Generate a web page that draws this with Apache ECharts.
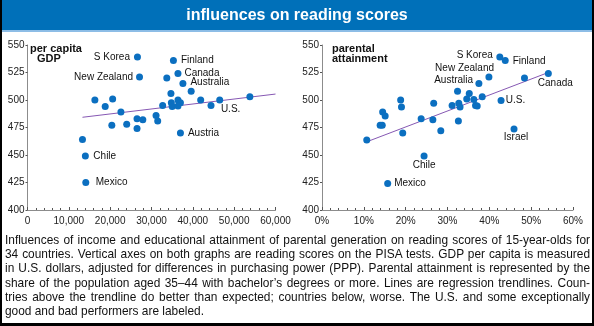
<!DOCTYPE html>
<html>
<head>
<meta charset="utf-8">
<script src="https://cdn.jsdelivr.net/npm/echarts@6/dist/echarts.min.js"></script>
<style>
  html, body { margin: 0; padding: 0; background: #fff; }
  #wrap { position: relative; width: 594px; height: 326px; overflow: hidden; }
  #chart { position: absolute; left: 0; top: 0; width: 594px; height: 326px; }
  #caption {
    position: absolute; left: 5px; top: 233px; width: 585px;
    font-family: 'Liberation Sans', Arial, sans-serif; font-size: 11.9px;
    word-spacing: -1.2px; line-height: 14.2px; color: #111;
  }
  #caption div { text-align: justify; text-align-last: justify; }
  #caption div.last { text-align-last: left; word-spacing: 0; }
</style>
</head>
<body>
<div id="wrap">
  <div id="chart"></div>
  <div id="caption">
    <div>Influences of income and educational attainment of parental generation on reading scores of 15-year-olds for</div>
    <div>34 countries. Vertical axes on both graphs are reading scores on the PISA tests. GDP per capita is measured</div>
    <div>in U.S. dollars, adjusted for differences in purchasing power (PPP). Parental attainment is represented by the</div>
    <div>share of the population aged 35–44 with bachelor’s degrees or more. Lines are regression trendlines. Coun-</div>
    <div>tries above the trendline do better than expected; countries below, worse. The U.S. and some exceptionally</div>
    <div class="last">good and bad performers are labeled.</div>
  </div>
</div>
<script>
// Reading score axis (shared by both panels)
const scoreMin = 400;
const scoreMax = 550;
const scoreStep = 25;

// GDP per capita axis (US$, PPP)
const gdpMax = 60000;
const gdpStep = 10000;

// Parental attainment axis (% aged 35-44 with bachelor's degree or more)
const attainMax = 60;
const attainStep = 10;

// Panel 1: [GDP per capita, reading score]
const gdpOthers = [
  [33700, 520], [39600, 508], [34700, 506], [16300, 500], [20600, 501],
  [18800, 494], [22600, 489], [26500, 483], [27900, 482], [20400, 477],
  [24000, 478], [26500, 474], [31100, 486], [31500, 481], [32700, 495],
  [34800, 497.5], [35000, 494], [36400, 500], [37000, 497.5], [36400, 494.5],
  [41900, 500], [44400, 495], [53800, 503], [13300, 464]
];
const gdpNamed = [
  ['S Korea', 26600, 539], ['Finland', 35300, 536], ['Canada', 36400, 524],
  ['Australia', 37600, 515], ['New Zealand', 27100, 521], ['U.S.', 46500, 500],
  ['Austria', 37000, 470], ['Chile', 14000, 449], ['Mexico', 14100, 425]
];
const gdpTrend = [[13300, 484.3], [60000, 505.4]];

// Panel 2: [parental attainment %, reading score]
const attainOthers = [
  [48.4, 520], [32.4, 508], [35.2, 506], [38.3, 503], [34.6, 501],
  [36.3, 500.5], [36.7, 495], [37.1, 494.5], [31.1, 495], [32.7, 497],
  [33.0, 493.6], [26.7, 497], [18.8, 500], [19.0, 493.6], [14.5, 489],
  [15.1, 485.5], [13.9, 477], [14.4, 477], [23.7, 483], [26.5, 482],
  [32.6, 481], [19.3, 470], [28.4, 472], [10.7, 463.6]
];
const attainNamed = [
  ['S Korea', 42.5, 539], ['Finland', 43.8, 536], ['Canada', 54.1, 524],
  ['New Zealand', 39.9, 521], ['Australia', 37.5, 515], ['U.S.', 42.8, 499.5],
  ['Israel', 45.9, 473.6], ['Chile', 24.4, 449], ['Mexico', 15.7, 424]
];
const attainTrend = [[10.7, 462], [54.1, 525]];

// Where each country name sits next to its dot
const gdpLabelPlace = {
  'S Korea':     { position: 'left',  distance: 4 },
  'Finland':     { position: 'right', distance: 4 },
  'Canada':      { position: 'right', distance: 3 },
  'Australia':   { position: 'right', distance: 4, offset: [0, -1.5] },
  'New Zealand': { position: 'left',  distance: 3 },
  'U.S.':        { position: 'right', distance: 0, offset: [-2.3, 9] },
  'Austria':     { position: 'right', distance: 4 },
  'Chile':       { position: 'right', distance: 4.5 },
  'Mexico':      { position: 'right', distance: 6.5 }
};
const attainLabelPlace = {
  'S Korea':     { position: 'left',   distance: 3.5, offset: [0, -1.5] },
  'Finland':     { position: 'right',  distance: 4, offset: [0, 1.3] },
  'Canada':      { position: 'bottom', distance: 1, offset: [7, 0] },
  'New Zealand': { position: 'left',   distance: 0, offset: [8.6, -8.3] },
  'Australia':   { position: 'left',   distance: 2.3, offset: [0, -3.7] },
  'U.S.':        { position: 'right',  distance: 1.3 },
  'Israel':      { position: 'bottom', distance: 0, offset: [2, 0] },
  'Chile':       { position: 'bottom', distance: 0.5 },
  'Mexico':      { position: 'right',  distance: 3 }
};

const FONT = "'Liberation Sans', Arial, Helvetica, sans-serif";
const DOT = '#0b6fc0';
const TREND = '#8658b3';
const AXIS = '#8c8c8c';

function thousands(v) {
  return String(v).replace(/\B(?=(\d{3})+(?!\d))/g, ',');
}

function xAxisFor(gridIndex, max, step, fmt) {
  return {
    gridIndex: gridIndex, type: 'value', min: 0, max: max, interval: step,
    axisLine: { show: true, onZero: false, lineStyle: { color: AXIS, width: 1 } },
    axisTick: { show: true, inside: true, length: 3, lineStyle: { color: '#555' } },
    minorTick: { show: true, splitNumber: 5, length: 2, lineStyle: { color: '#555' } },
    axisLabel: { fontSize: 10, color: '#222', margin: 6, fontFamily: FONT, formatter: fmt },
    splitLine: { show: false }
  };
}

function yAxisFor(gridIndex) {
  return {
    gridIndex: gridIndex, type: 'value', min: scoreMin, max: scoreMax, interval: scoreStep,
    axisLine: { show: true, onZero: false, lineStyle: { color: AXIS, width: 1 } },
    axisTick: { show: true, inside: false, length: 2, lineStyle: { color: '#555' } },
    axisLabel: { fontSize: 10, color: '#222', margin: 3, fontFamily: FONT },
    splitLine: { show: false }
  };
}

function namedItems(rows, place) {
  return rows.map(function (r) {
    const p = place[r[0]];
    return {
      name: r[0],
      value: [r[1], r[2]],
      label: Object.assign({ show: true, formatter: '{b}' }, p)
    };
  });
}

function panelSeries(idx, others, named, trend, place) {
  return [
    {
      type: 'line', xAxisIndex: idx, yAxisIndex: idx, data: trend,
      symbol: 'none', silent: true, z: 1,
      lineStyle: { color: TREND, width: 1 }
    },
    {
      type: 'scatter', xAxisIndex: idx, yAxisIndex: idx, data: others,
      symbolSize: 7, itemStyle: { color: DOT, opacity: 1 }, z: 3
    },
    {
      type: 'scatter', xAxisIndex: idx, yAxisIndex: idx,
      data: namedItems(named, place),
      symbolSize: 7, itemStyle: { color: DOT, opacity: 1 }, z: 3,
      label: { fontSize: 10, color: '#111', fontFamily: FONT }
    }
  ];
}

const chart = echarts.init(document.getElementById('chart'), null, { renderer: 'canvas' });

chart.setOption({
  animation: false,
  backgroundColor: '#fff',
  title: [
    {
      text: 'influences on reading scores', left: 'center', top: 8, padding: 0,
      textStyle: { color: '#fff', fontSize: 16, fontWeight: 'bold', fontFamily: FONT, lineHeight: 16 }
    },
    {
      text: 'per capita', left: 30, top: 43, padding: 0,
      textStyle: { color: '#111', fontSize: 11, fontWeight: 'bold', fontFamily: FONT, lineHeight: 11 }
    },
    {
      text: 'GDP', left: 37, top: 53, padding: 0,
      textStyle: { color: '#111', fontSize: 11, fontWeight: 'bold', fontFamily: FONT, lineHeight: 11 }
    },
    {
      text: 'parental', left: 332, top: 43, padding: 0,
      textStyle: { color: '#111', fontSize: 11, fontWeight: 'bold', fontFamily: FONT, lineHeight: 11 }
    },
    {
      text: 'attainment', left: 332, top: 53.5, padding: 0,
      textStyle: { color: '#111', fontSize: 11, fontWeight: 'bold', fontFamily: FONT, lineHeight: 11 }
    }
  ],
  graphic: [
    { type: 'rect', shape: { x: 2, y: 0, width: 590, height: 30 }, style: { fill: '#0070b9' }, z: -1 },
    { type: 'rect', shape: { x: 2, y: 30, width: 590, height: 2 }, style: { fill: '#8dbde6' }, z: -1 },
    { type: 'rect', shape: { x: 0, y: 0, width: 2, height: 326 }, style: { fill: '#000' } },
    { type: 'rect', shape: { x: 592, y: 0, width: 2, height: 326 }, style: { fill: '#000' } },
    { type: 'rect', shape: { x: 0, y: 323, width: 594, height: 3 }, style: { fill: '#000' } }
  ],
  grid: [
    { left: 27.5, top: 45, width: 248, height: 165 },
    { left: 322, top: 45, width: 251, height: 165 }
  ],
  xAxis: [
    xAxisFor(0, gdpMax, gdpStep, thousands),
    xAxisFor(1, attainMax, attainStep, '{value}%')
  ],
  yAxis: [yAxisFor(0), yAxisFor(1)],
  series: [].concat(
    panelSeries(0, gdpOthers, gdpNamed, gdpTrend, gdpLabelPlace),
    panelSeries(1, attainOthers, attainNamed, attainTrend, attainLabelPlace)
  )
});
</script>
</body>
</html>
